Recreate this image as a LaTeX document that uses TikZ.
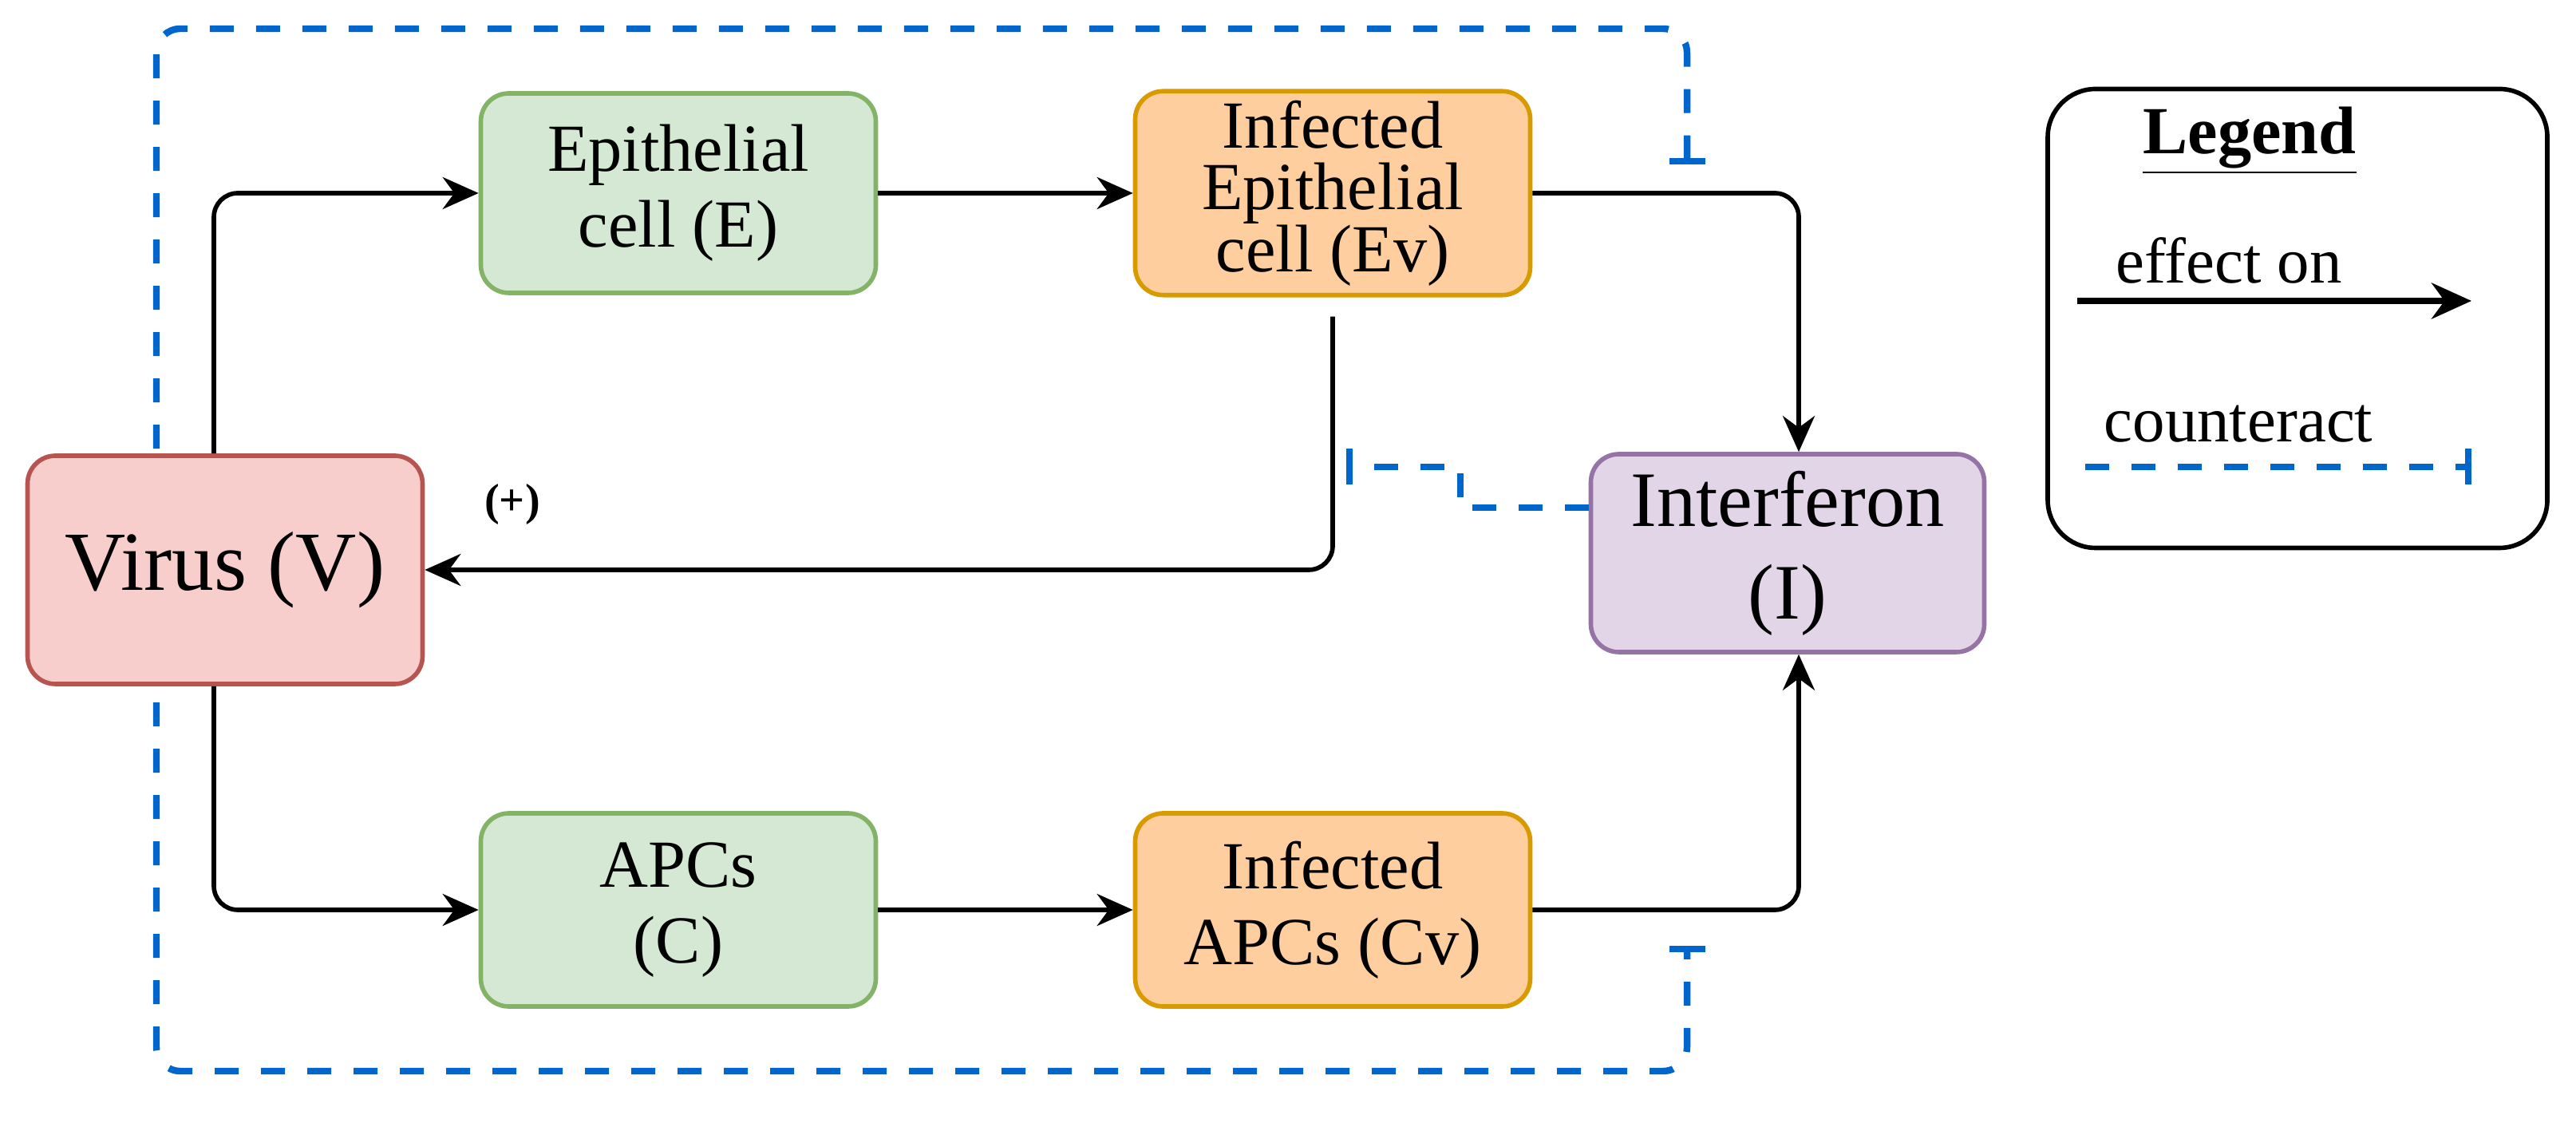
\documentclass[tikz,border=0pt]{standalone}
\usepackage{fontspec}
\setmainfont{Liberation Serif}
\usetikzlibrary{arrows.meta,positioning}
\definecolor{grnF}{HTML}{D5E8D4}\definecolor{grnD}{HTML}{82B366}
\definecolor{orgF}{HTML}{FFCE9F}\definecolor{orgD}{HTML}{D79B00}
\definecolor{redF}{HTML}{F8CECC}\definecolor{redD}{HTML}{B85450}
\definecolor{purF}{HTML}{E1D5E7}\definecolor{purD}{HTML}{9673A6}
\definecolor{ctrB}{HTML}{0066CC}
\tikzset{
  box/.style={draw, rounded corners=0.35cm, line width=1.6pt, align=center,
    minimum width=4.95cm, minimum height=2.5cm, font=\fontsize{24}{27}\selectfont},
  eff/.style={line width=1.6pt, rounded corners=0.3cm, -{Stealth[length=0.45cm,width=0.4cm]}},
  ctr/.style={ctrB, line width=2.4pt, dash pattern=on 0.3cm off 0.28cm, rounded corners=0.3cm},
  bar/.style={-{Bar[width=0.45cm,line width=2.4pt]}}
}
\begin{document}
\begin{tikzpicture}
\useasboundingbox (0,0) rectangle (32.28,14.06);
% outer counteraction loop (behind the cells)
\coordinate (tb) at (21.14,12.0);
\coordinate (bb) at (21.14,2.21);
\draw[ctr, {Bar[width=0.45cm,line width=2.4pt]}-{Bar[width=0.45cm,line width=2.4pt]}]
  (tb) -- (21.14,13.70) -- (1.96,13.70) -- (1.96,0.64) -- (21.14,0.64) -- (bb);

% cells
\node[box, fill=redF, draw=redD, minimum height=2.86cm, font=\fontsize{30}{34}\selectfont] (vir) at (2.82,6.92) {Virus (V)};
\node[box, fill=grnF, draw=grnD] (epi) at (8.50,11.64) {Epithelial\\cell (E)};
\node[box, fill=orgF, draw=orgD, font=\fontsize{24}{22}\selectfont] (iep) at (16.70,11.64) {Infected\\Epithelial\\cell (Ev)};
\node[box, fill=grnF, draw=grnD, minimum height=2.42cm] (apc) at (8.50,2.66) {APCs\\(C)};
\node[box, fill=orgF, draw=orgD, minimum height=2.42cm] (iap) at (16.70,2.66) {Infected\\APCs (Cv)};
\node[box, fill=purF, draw=purD, minimum width=4.93cm, minimum height=2.48cm, font=\fontsize{28}{33}\selectfont] (ifn) at (22.40,7.13) {Interferon\\(I)};

% effects
\draw[eff] ([xshift=-0.14cm]vir.north) |- (epi.west);
\draw[eff] ([xshift=-0.14cm]vir.south) |- (apc.west);
\draw[eff] (epi) -- (iep);
\draw[eff] (apc) -- (iap);
\draw[eff] (iep.east) -| ([xshift=0.14cm]ifn.north);
\draw[eff] (iap.east) -| ([xshift=0.14cm]ifn.south);
\draw[eff] ([yshift=-0.24cm]iep.south) |- (vir.east);
\node[font=\bfseries\fontsize{16}{18}\selectfont] (pls) at (6.42,7.74) {(+)};

% interferon counteraction
\draw[ctr, bar, rounded corners=0pt] ([yshift=0.57cm]ifn.west) -- ++(-1.61,0) |- (16.87,8.21);

% legend
\node[draw, line width=1.6pt, rounded corners=0.6cm, minimum width=6.26cm, minimum height=5.75cm] (leg) at (28.79,10.07) {};
\node[font=\bfseries\fontsize{24}{28}\selectfont] (lgt) at (28.19,12.3) {\underline{Legend}};
\node[font=\fontsize{23}{27}\selectfont] (lge) at (27.93,10.8) {effect on};
\node[font=\fontsize{23}{27}\selectfont] (lgc) at (28.05,8.75) {counteract};
\coordinate (la1) at (26.03,10.29);
\coordinate (la2) at (30.97,10.29);
\coordinate (lc1) at (26.13,8.21);
\coordinate (lc2) at (30.97,8.21);
\draw[line width=2.2pt, -{Stealth[length=0.5cm,width=0.45cm]}] (la1) -- (la2);
\draw[ctr, bar] (lc1) -- (lc2);
\end{tikzpicture}
\end{document}
